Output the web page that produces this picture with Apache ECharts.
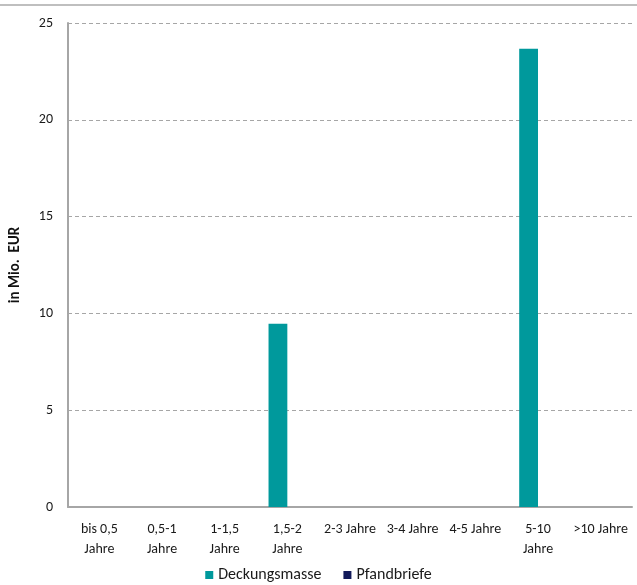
<!DOCTYPE html>
<html><head><meta charset="utf-8">
<script src="https://cdn.jsdelivr.net/npm/echarts@6/dist/echarts.min.js"></script>
<style>html,body{margin:0;padding:0;background:#fff}#c{width:637px;height:585px}</style>
</head><body><div id="c"></div>
<script>
const categories = ['bis 0,5\nJahre','0,5-1\nJahre','1-1,5\nJahre','1,5-2\nJahre','2-3 Jahre','3-4 Jahre','4-5 Jahre','5-10\nJahre','>10 Jahre'];
const deckungsmasse = [0, 0, 0, 9.46, 0, 0, 0, 23.67, 0];
const pfandbriefe = [0, 0, 0, 0, 0, 0, 0, 0, 0];
const yTicks = [0, 5, 10, 15, 20, 25];
const FONT = 'Carlito, Lato, sans-serif';
const chart = echarts.init(document.getElementById('c'), null, {renderer:'canvas'});
chart.setOption({
  animation:false,
  graphic:[{type:'rect', shape:{x:0,y:4,width:637,height:2}, style:{fill:'#bfbfbf'}}],
  grid:{left:63, top:23, right:5, bottom:78, containLabel:false},
  legend:{bottom:-3, left:'center', itemWidth:8, itemHeight:8, itemGap:22, icon:'rect',
    textStyle:{fontFamily:FONT, fontSize:16, color:'#1a1a1a'},
    data:['Deckungsmasse','Pfandbriefe']},
  xAxis:{type:'category', data:categories,
    axisLine:{lineStyle:{color:'#a6a6a6', width:2}}, axisTick:{show:false},
    axisLabel:{fontFamily:FONT, fontSize:14, color:'#1a1a1a', margin:12, lineHeight:20, interval:0}},
  yAxis:{type:'value', min:yTicks[0], max:yTicks[yTicks.length-1], interval:5,
    name:'in Mio.  EUR', nameLocation:'middle', nameGap:45,
    nameTextStyle:{fontFamily:FONT, fontSize:15, fontWeight:'bold', color:'#111'},
    axisLine:{show:true, lineStyle:{color:'#a6a6a6', width:2}}, axisTick:{show:false},
    axisLabel:{fontFamily:FONT, fontSize:14, color:'#1a1a1a', margin:15},
    splitLine:{lineStyle:{color:'#a6a6a6', type:[4,3], width:1}}},
  series:[
    {name:'Deckungsmasse', type:'bar', data:deckungsmasse, itemStyle:{color:'#00999c'}, barGap:'0%', barCategoryGap:'40%'},
    {name:'Pfandbriefe', type:'bar', data:pfandbriefe, itemStyle:{color:'#121a5a'}}
  ]
});
</script></body></html>
